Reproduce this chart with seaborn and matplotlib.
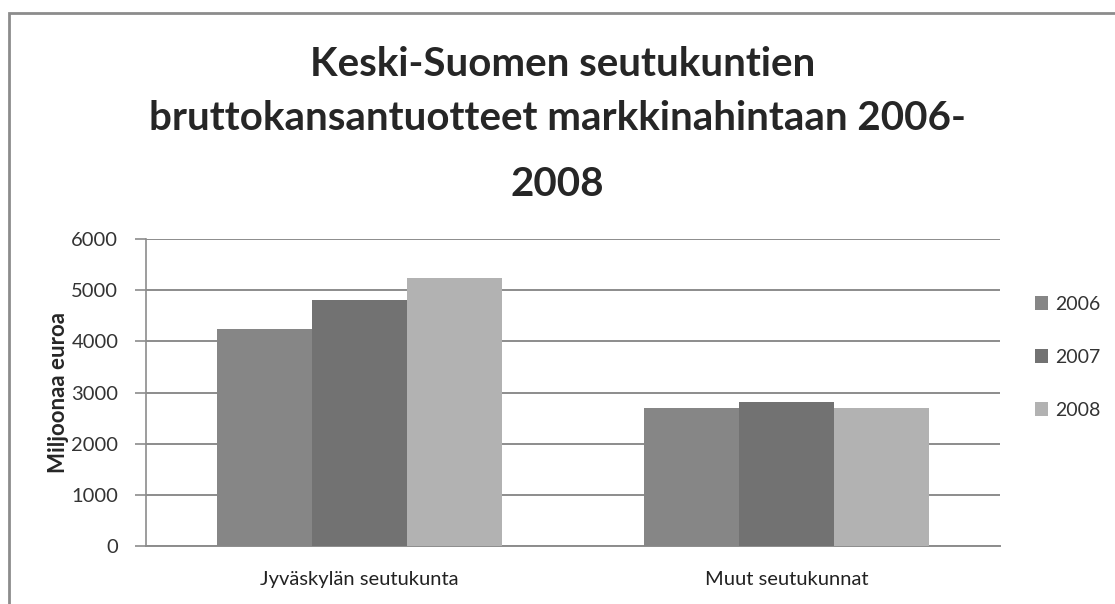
import numpy as np
import pandas as pd
import seaborn as sns
import matplotlib.pyplot as plt
from matplotlib.patches import Rectangle

# data
regions = ["Jyväskylän seutukunta", "Muut seutukunnat"]
years = ["2006", "2007", "2008"]
gdp_2006 = [4250, 2700]
gdp_2007 = [4810, 2810]
gdp_2008 = [5240, 2700]
year_colors = ["#868686", "#727272", "#b2b2b2"]
yticks = [0, 1000, 2000, 3000, 4000, 5000, 6000]

df = pd.DataFrame({
    "region": regions * 3,
    "year": [y for y in years for _ in regions],
    "value": gdp_2006 + gdp_2007 + gdp_2008,
})

sns.set_theme(style="white")
plt.rcParams["font.family"] = ["Lato", "DejaVu Sans"]

fig = plt.figure(figsize=(11.15, 6.04), dpi=100)
ax = fig.add_axes([0.131, 0.096, 0.766, 0.508])

sns.barplot(data=df, x="region", y="value", hue="year", palette=year_colors,
            width=0.667, gap=0, saturation=1, linewidth=0, ax=ax, zorder=3,
            legend=True)

ax.set_ylim(0, 6000)
ax.set_xlim(-0.5, 1.5)
ax.set_yticks(yticks)
ax.yaxis.grid(True, color="#8c8c8c", linewidth=1.4, zorder=0)
ax.set_axisbelow(True)
for s in ["top", "right"]:
    ax.spines[s].set_visible(False)
ax.spines["left"].set_color("#8c8c8c")
ax.spines["left"].set_linewidth(1.2)
ax.spines["bottom"].set_color("#8c8c8c")
ax.spines["bottom"].set_linewidth(1.4)
ax.tick_params(axis="y", left=True, length=8, width=1.2, color="#8c8c8c",
               labelsize=14.5, labelcolor="#333333", pad=12)
ax.tick_params(axis="x", bottom=False, labelsize=14.5, labelcolor="#222222", pad=12)
ax.set_xlabel("")
ax.set_ylabel("Miljoonaa euroa", fontsize=16, fontweight="bold", labelpad=2)

leg = ax.legend(loc="center left", bbox_to_anchor=(1.02, 0.615), frameon=False,
                fontsize=14, handlelength=0.7, handleheight=0.7, handletextpad=0.35,
                labelspacing=1.85)
for t in leg.get_texts():
    t.set_color("#333333")

fig.text(0.505, 0.893, "Keski-Suomen seutukuntien", ha="center", va="center",
         fontsize=29, fontweight="bold")
fig.text(0.5, 0.803, "bruttokansantuotteet markkinahintaan 2006-", ha="center",
         va="center", fontsize=29, fontweight="bold")
fig.text(0.5, 0.695, "2008", ha="center", va="center", fontsize=29, fontweight="bold")

# chart frame (only top/left edges fall inside the crop)
fig.patches.append(Rectangle((9 / 1115, -0.1), 1.2, 1 - 13 / 604 + 0.1,
                             transform=fig.transFigure, fill=False,
                             edgecolor="#8c8c8c", linewidth=2))

fig.savefig("out.png", dpi=100)
